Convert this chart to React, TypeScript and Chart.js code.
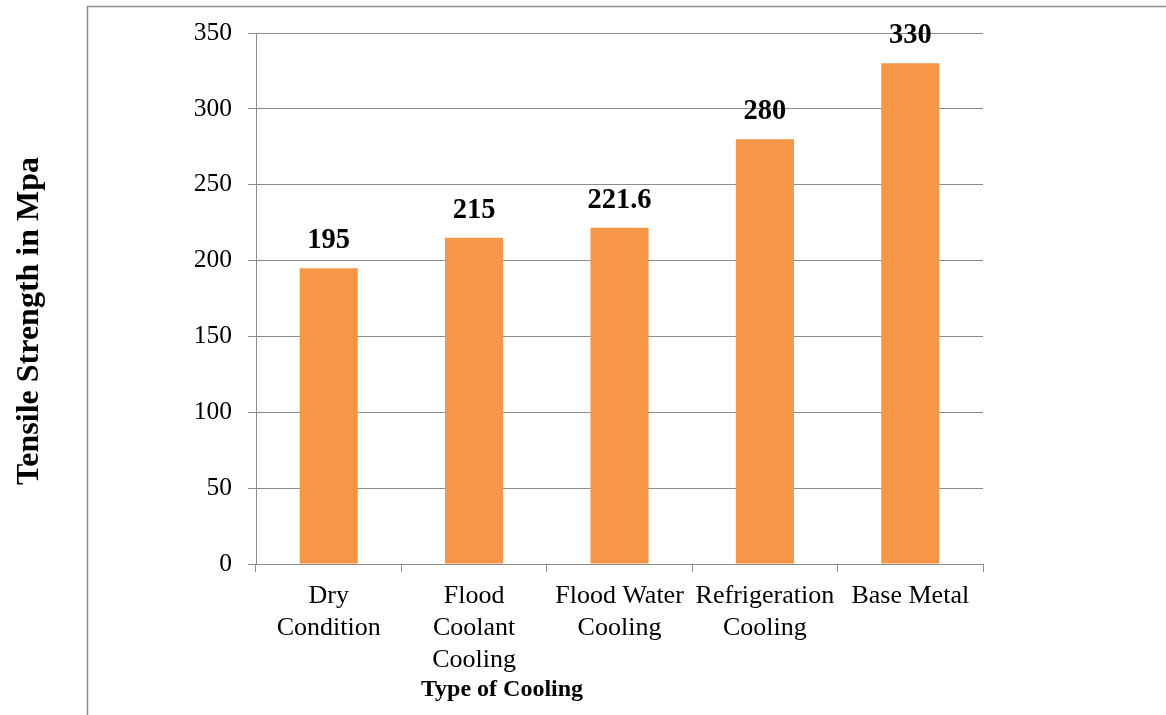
import React, { useEffect, useRef } from "react";
import { Chart, registerables } from "chart.js";

Chart.register(...registerables);

const categories: string[][] = [
  ["Dry", "Condition"],
  ["Flood", "Coolant", "Cooling"],
  ["Flood Water", "Cooling"],
  ["Refrigeration", "Cooling"],
  ["Base Metal"],
];
const strengthValues: number[] = [195, 215, 221.6, 280, 330];
const yTitle = "Tensile Strength in Mpa";
const xTitle = "Type of Cooling";

const SERIF = "'Liberation Serif', 'Times New Roman', serif";

const extrasPlugin = {
  id: "extras",
  beforeDraw(chart: any) {
    const ctx = chart.ctx;
    ctx.save();
    ctx.strokeStyle = "#8c8c8c";
    ctx.lineWidth = 1.5;
    ctx.beginPath();
    ctx.moveTo(87.5, chart.height);
    ctx.lineTo(87.5, 6.5);
    ctx.lineTo(chart.width, 6.5);
    ctx.stroke();
    ctx.restore();
  },
  afterDatasetsDraw(chart: any) {
    const ctx = chart.ctx;
    const meta = chart.getDatasetMeta(0);
    ctx.save();
    ctx.fillStyle = "#000";
    ctx.font = `bold 28.5px ${SERIF}`;
    ctx.textAlign = "center";
    ctx.textBaseline = "alphabetic";
    meta.data.forEach((bar: any, i: number) => {
      ctx.fillText(String(strengthValues[i]), bar.x, bar.y - 20);
    });
    // y title
    ctx.save();
    ctx.translate(30, 321);
    ctx.rotate(-Math.PI / 2);
    ctx.font = `bold 32px ${SERIF}`;
    ctx.textBaseline = "middle";
    ctx.fillText(yTitle, 0, 0);
    ctx.restore();
    // x title
    ctx.font = `bold 24px ${SERIF}`;
    ctx.textBaseline = "middle";
    ctx.fillText(xTitle, 502, 690);
    ctx.restore();
  },
};

export default function App() {
  const ref = useRef<HTMLCanvasElement | null>(null);
  useEffect(() => {
    document.body.style.margin = "0";
    const chart = new Chart(ref.current as HTMLCanvasElement, {
      type: "bar",
      data: {
        labels: categories,
        datasets: [
          {
            data: strengthValues,
            backgroundColor: "#F79646",
            categoryPercentage: 0.8,
            barPercentage: 0.5,
          },
        ],
      },
      options: {
        animation: false,
        responsive: false,
        maintainAspectRatio: false,
        layout: { padding: { top: 33, right: 183, left: 0, bottom: 0 } },
        plugins: { legend: { display: false }, tooltip: { enabled: false } },
        scales: {
          x: {
            grid: {
              offset: true,
              drawOnChartArea: false,
              drawTicks: true,
              tickLength: 8,
              color: "#8c8c8c",
            },
            border: { color: "#8c8c8c" },
            ticks: {
              color: "#000",
              font: { family: SERIF, size: 26, lineHeight: 1.23 },
              maxRotation: 0,
              autoSkip: false,
              padding: 8,
            },
            afterFit: (s: any) => {
              s.height = 151;
            },
          },
          y: {
            min: 0,
            max: 350,
            ticks: {
              stepSize: 50,
              color: "#000",
              font: { family: SERIF, size: 25.5 },
              padding: 16,
            },
            grid: { color: "#8c8c8c", tickLength: 8 },
            border: { color: "#8c8c8c" },
            afterFit: (s: any) => {
              s.width = 256;
            },
          },
        },
      },
      plugins: [extrasPlugin],
    });
    return () => chart.destroy();
  }, []);
  return (
    <div style={{ width: 1166, height: 715 }}>
      <canvas ref={ref} width={1166} height={715} style={{ display: "block" }} />
    </div>
  );
}
